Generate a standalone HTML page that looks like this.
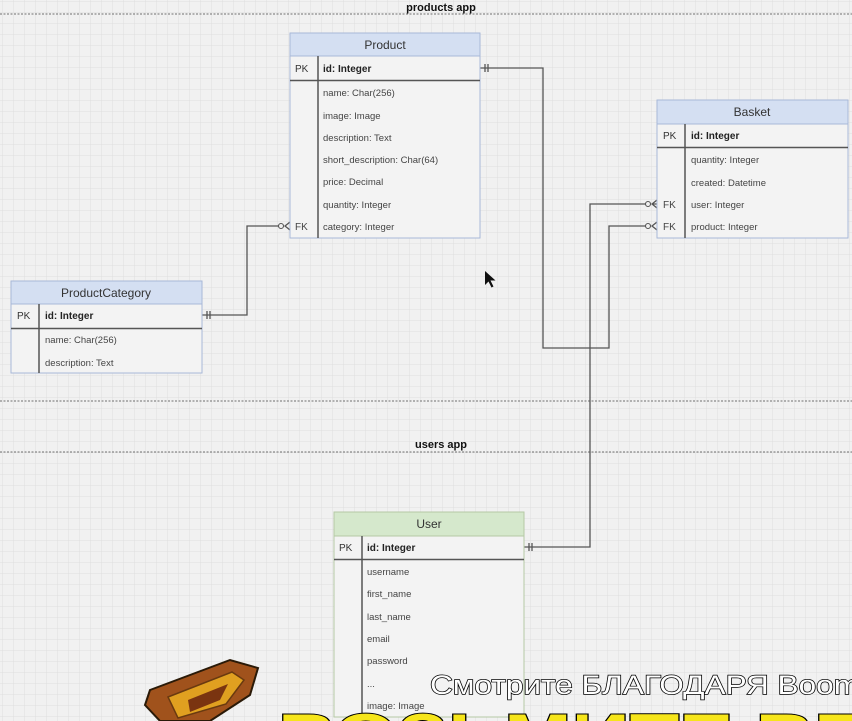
<!DOCTYPE html>
<html><head><meta charset="utf-8"><style>
html,body{margin:0;padding:0;width:852px;height:721px;overflow:hidden;background:#efefef}
svg{display:block;overflow:hidden}
text{font-family:"Liberation Sans",sans-serif}
</style></head><body>
<svg width="852" height="721" viewBox="0 0 852 721" xmlns="http://www.w3.org/2000/svg">
<defs>
<pattern id="g" width="11" height="11" patternUnits="userSpaceOnUse" x="3" y="2">
<path d="M11 0V11M0 11H11" stroke="#dedede" stroke-width="1" fill="none"/>
</pattern>
<clipPath id="c"><rect width="852" height="721"/></clipPath>
</defs>
<g clip-path="url(#c)">
<rect width="852" height="721" fill="#f1f1f1"/>
<rect width="852" height="721" fill="url(#g)"/>
<g stroke="#8a8a8a" stroke-dasharray="2,1.5" stroke-width="1.2">
<line x1="0" y1="14" x2="852" y2="14"/>
<line x1="0" y1="401" x2="852" y2="401"/>
<line x1="0" y1="452" x2="852" y2="452"/>
</g>
<text x="441" y="11" font-size="11" font-weight="bold" text-anchor="middle" fill="#111">products app</text>
<text x="441" y="448" font-size="11" font-weight="bold" text-anchor="middle" fill="#111">users app</text>

<g stroke="#555" stroke-width="1.3" fill="none">
<polyline points="480,68 543,68 543,348 609,348 609,226 650,226"/>
<polyline points="524,547 590,547 590,204 650,204"/>
<polyline points="202,315 247,315 247,226 283,226"/>
<path d="M485 64v8M488 64v8"/>
<path d="M207 311v8M210 311v8"/>
<path d="M529 543v8M532 543v8"/>
<path d="M657 200l-5 4l5 4M652 204h5"/>
<path d="M657 222l-5 4l5 4"/>
<path d="M290 222l-5 4l5 4"/>
</g>
<g fill="#f1f1f1" stroke="#555" stroke-width="1.1">
<circle cx="648" cy="204" r="2.5"/><circle cx="648" cy="226" r="2.5"/><circle cx="281" cy="226" r="2.5"/>
</g>

<g>
<rect x="290" y="33" width="190" height="205" fill="#f3f3f3" stroke="#a8b8d8"/>
<rect x="290" y="33" width="190" height="23" fill="#d4dff2" stroke="#a8b8d8"/>
<line x1="290" y1="80.5" x2="480" y2="80.5" stroke="#555" stroke-width="1.5"/>
<line x1="318" y1="56" x2="318" y2="238" stroke="#555" stroke-width="1.5"/>
<text x="385" y="49" font-size="12" text-anchor="middle" fill="#333">Product</text>
<text x="295" y="72" font-size="10" fill="#333">PK</text>
<text x="323" y="72" font-size="10" font-weight="bold" fill="#222">id: Integer</text>
<g font-size="9.5" fill="#444">
<text x="323" y="96">name: Char(256)</text>
<text x="323" y="119">image: Image</text>
<text x="323" y="141">description: Text</text>
<text x="323" y="163">short_description: Char(64)</text>
<text x="323" y="185">price: Decimal</text>
<text x="323" y="208">quantity: Integer</text>
<text x="323" y="230">category: Integer</text>
<text x="295" y="230" font-size="10">FK</text>
</g>
</g>

<g>
<rect x="657" y="100" width="191" height="138" fill="#f3f3f3" stroke="#a8b8d8"/>
<rect x="657" y="100" width="191" height="24" fill="#d4dff2" stroke="#a8b8d8"/>
<line x1="657" y1="147.5" x2="848" y2="147.5" stroke="#555" stroke-width="1.5"/>
<line x1="685" y1="124" x2="685" y2="238" stroke="#555" stroke-width="1.5"/>
<text x="752" y="116" font-size="12" text-anchor="middle" fill="#333">Basket</text>
<text x="663" y="139" font-size="10" fill="#333">PK</text>
<text x="691" y="139" font-size="10" font-weight="bold" fill="#222">id: Integer</text>
<g font-size="9.5" fill="#444">
<text x="691" y="163">quantity: Integer</text>
<text x="691" y="186">created: Datetime</text>
<text x="691" y="208">user: Integer</text>
<text x="691" y="230">product: Integer</text>
<text x="663" y="208" font-size="10">FK</text>
<text x="663" y="230" font-size="10">FK</text>
</g>
</g>

<g>
<rect x="11" y="281" width="191" height="92" fill="#f3f3f3" stroke="#a8b8d8"/>
<rect x="11" y="281" width="191" height="23" fill="#d4dff2" stroke="#a8b8d8"/>
<line x1="11" y1="328.5" x2="202" y2="328.5" stroke="#555" stroke-width="1.5"/>
<line x1="39" y1="304" x2="39" y2="373" stroke="#555" stroke-width="1.5"/>
<text x="106" y="297" font-size="12" text-anchor="middle" fill="#333">ProductCategory</text>
<text x="17" y="319" font-size="10" fill="#333">PK</text>
<text x="45" y="319" font-size="10" font-weight="bold" fill="#222">id: Integer</text>
<g font-size="9.5" fill="#444">
<text x="45" y="343">name: Char(256)</text>
<text x="45" y="366">description: Text</text>
</g>
</g>

<g>
<rect x="334" y="512" width="190" height="205" fill="#f3f3f3" stroke="#b5c9a5"/>
<rect x="334" y="512" width="190" height="24" fill="#d5e8cc" stroke="#b5c9a5"/>
<line x1="334" y1="559.5" x2="524" y2="559.5" stroke="#555" stroke-width="1.5"/>
<line x1="362" y1="536" x2="362" y2="717" stroke="#555" stroke-width="1.5"/>
<text x="429" y="528" font-size="12" text-anchor="middle" fill="#333">User</text>
<text x="339" y="551" font-size="10" fill="#333">PK</text>
<text x="367" y="551" font-size="10" font-weight="bold" fill="#222">id: Integer</text>
<g font-size="9.5" fill="#444">
<text x="367" y="575">username</text>
<text x="367" y="597">first_name</text>
<text x="367" y="620">last_name</text>
<text x="367" y="642">email</text>
<text x="367" y="664">password</text>
<text x="367" y="687">...</text>
<text x="367" y="709">image: Image</text>
</g>
</g>

<path d="M485 271l0 14l3.5-3.5l3 6l2-1l-3-6l5 0z" fill="#111"/>

<g>
<path d="M150 690 L230 660 L258 668 L250 695 L210 721 L160 721 L145 705Z" fill="#a0521c" stroke="#2a1a08" stroke-width="2"/>
<path d="M168 697 L232 672 L244 680 L226 704 L178 718Z" fill="#e0a020" stroke="#6a3a10" stroke-width="1.5"/>
<path d="M188 700 L228 684 L220 700 L190 712Z" fill="#7a3410"/>
</g>
<text x="430" y="694" font-size="27" fill="#fff" stroke="#000" stroke-width="1.4" paint-order="stroke" textLength="430" lengthAdjust="spacingAndGlyphs">Смотрите БЛАГОДАРЯ Boom</text>
<text x="278" y="756" font-size="60" font-weight="bold" fill="#f6e51a" stroke="#000" stroke-width="2" paint-order="stroke" textLength="590" lengthAdjust="spacingAndGlyphs">ВОЗЬМИТЕ ВЕ</text>
</g>
</svg>
</body></html>
